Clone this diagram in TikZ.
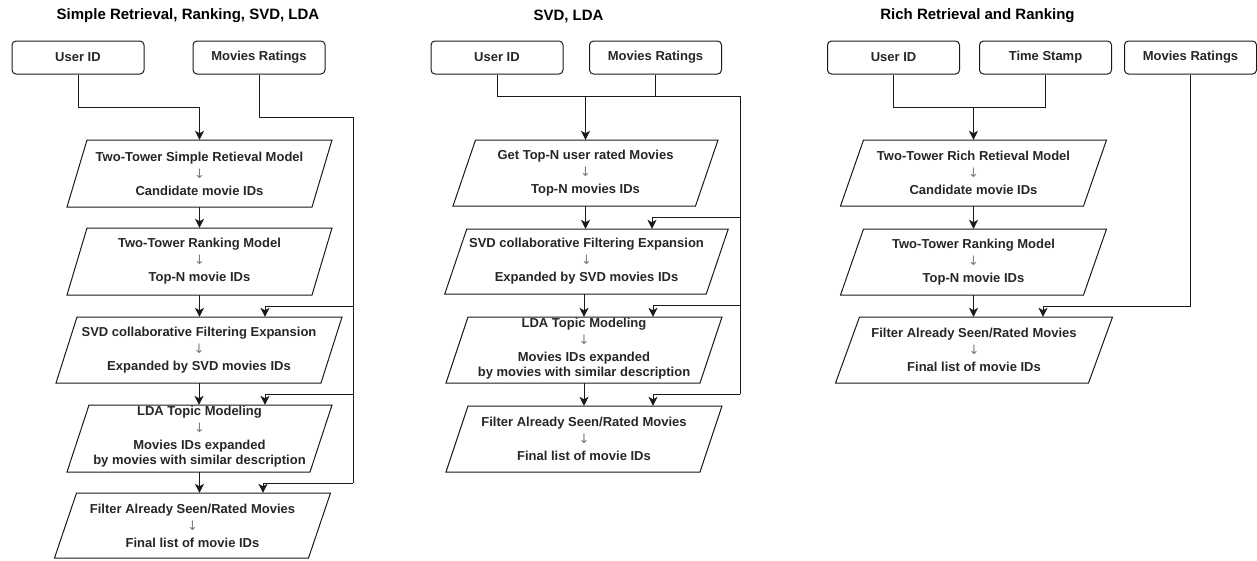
\documentclass[tikz,border=0pt]{standalone}
\usepackage{fontspec}
\setmainfont{Liberation Sans}
\newfontfamily\arrfont{DejaVu Sans}
\usetikzlibrary{arrows.meta}
\definecolor{txt}{HTML}{262626}
\definecolor{arrowgray}{HTML}{7A7A7A}
\definecolor{edge}{HTML}{1A1A1A}

\tikzset{
  wire/.style={line width=1pt, draw=edge},
  arr/.style={wire, -{Stealth[length=9pt,width=9pt,inset=2.5pt]}},
  inbox/.style={draw=edge, line width=1pt, rounded corners=4pt,
    minimum width=132pt, minimum height=33pt, inner sep=0pt,
    font=\bfseries\fontsize{13}{16}\selectfont, text=txt},
  pgline/.style={draw=edge, line width=1pt},
  pgtext/.style={inner sep=0pt, align=center,
    font=\bfseries\fontsize{13}{17}\selectfont, text=txt},
  ttl/.style={font=\bfseries\fontsize{15}{18}\selectfont, text=black, inner sep=0pt},
}

% thin grey arrow between the two lines of a step
\newcommand{\dn}{\textcolor{arrowgray}{\arrfont\mdseries\fontsize{13}{17}\selectfont ↓}}
% white label background for a line that runs over the border
\newcommand{\wbg}[1]{{\setlength{\fboxsep}{0pt}\colorbox{white}{\rule[-6pt]{0pt}{16pt}#1}}}
% parallelogram step: name, centre x, centre y, edge length, height, slant, text
\newcommand{\pgbox}[7]{%
  \draw[pgline] (#2-#4/2+#6/2, #3-#5/2) -- (#2+#4/2+#6/2, #3-#5/2)
    -- (#2+#4/2-#6/2, #3+#5/2) -- (#2-#4/2-#6/2, #3+#5/2) -- cycle;
  \node[pgtext, minimum width=#4pt, minimum height=#5pt] (#1) at (#2,#3) {#7};
}

\begin{document}
\begin{tikzpicture}[x=1pt, y=-1pt]
\useasboundingbox (0,0) rectangle (1257,560);

% ---------- Simple Retrieval, Ranking, SVD, LDA ----------
\node[ttl] (t1) at (188,16) {Simple Retrieval, Ranking, SVD, LDA};
\node[inbox] (usrA) at (78,57.5) {User ID};
\node[inbox] (mrA) at (259,57.5) {Movies Ratings};
\pgbox{retA}{199.5}{173.5}{245}{67}{20}{Two-Tower Simple Retieval Model\\ \dn\\ Candidate movie IDs}
\pgbox{rankA}{199.5}{261.5}{245}{67}{20}{Two-Tower Ranking Model\\ \dn\\ Top-N movie IDs}
\pgbox{svdA}{199}{350}{265}{66}{21}{SVD collaborative Filtering Expansion\\ \dn\\ Expanded by SVD movies IDs}
\pgbox{ldaA}{199.5}{438.5}{243}{67}{22}{LDA Topic Modeling\\ \dn\\ Movies IDs expanded\\[-2pt] \wbg{by movies with similar description}}
\pgbox{filA}{192.5}{525.5}{254}{65}{22}{Filter Already Seen/Rated Movies\\ \dn\\ Final list of movie IDs}

\draw[arr] (usrA.south) -- ++(0,33) -| (retA.north);
\draw[arr] (retA.south) -- (rankA.north);
\draw[arr] (rankA.south) -- (rankA.south |- svdA.north);
\draw[arr] (svdA.south) -- (svdA.south |- ldaA.north);
\draw[arr] (ldaA.south) -- (ldaA.south |- filA.north);
\coordinate (cA1) at (353,117);
\coordinate (cA2) at (353,306);
\coordinate (cA3) at (353,394);
\coordinate (cA4) at (353,483);
\draw[wire] (mrA.south) |- (cA1) -- (cA4);
\draw[arr] (cA2) -| ([xshift=66pt]svdA.north);
\draw[arr] (cA3) -| ([xshift=65.5pt]ldaA.north);
\draw[arr] (cA4) -| ([xshift=70.5pt]filA.north);

% ---------- SVD, LDA ----------
\node[ttl] (t2) at (568.5,16) {SVD, LDA};
\node[inbox] (usrB) at (497,57.5) {User ID};
\node[inbox] (mrB) at (655.5,57.5) {Movies Ratings};
\pgbox{topB}{585.5}{173}{242.5}{66}{22.5}{Get Top-N user rated Movies\\ \dn\\ Top-N movies IDs}
\pgbox{svdB}{586.5}{261.5}{261.5}{65}{22}{SVD collaborative Filtering Expansion\\ \dn\\ Expanded by SVD movies IDs}
\pgbox{ldaB}{584}{350}{254}{66}{22}{LDA Topic Modeling\\ \dn\\ Movies IDs expanded\\[-2pt] \wbg{by movies with similar description}}
\pgbox{filB}{584}{439}{254}{66}{22}{Filter Already Seen/Rated Movies\\ \dn\\ Final list of movie IDs}

\coordinate (cB0) at (740,96);
\coordinate (cB1) at (740,217);
\coordinate (cB2) at (740,305);
\coordinate (cB3) at (740,394);
\draw[wire] (usrB.south) |- (cB0) -- (cB3);
\draw[wire] (mrB.south) -- (mrB.south |- cB0);
\draw[arr] (topB.north |- cB0) -- (topB.north);
\draw[arr] (topB.south) -- (topB.south |- svdB.north);
\draw[arr] (ldaB.north |- svdB.south) -- (ldaB.north);
\draw[arr] (ldaB.south) -- (filB.north);
\draw[arr] (cB1) -| ([xshift=65.5pt]svdB.north);
\draw[arr] (cB2) -| ([xshift=69pt]ldaB.north);
\draw[arr] (cB3) -| ([xshift=69pt]filB.north);

% ---------- Rich Retrieval and Ranking ----------
\node[ttl] (t3) at (977.5,16) {Rich Retrieval and Ranking};
\node[inbox] (usrC) at (893.5,57.5) {User ID};
\node[inbox] (tsC) at (1045.5,57.5) {Time Stamp};
\node[inbox] (mrC) at (1190.5,57.5) {Movies Ratings};
\pgbox{richC}{973.5}{173}{243}{66}{23}{Two-Tower Rich Retieval Model\\ \dn\\ Candidate movie IDs}
\pgbox{rankC}{973.5}{262}{243}{66}{23}{Two-Tower Ranking Model\\ \dn\\ Top-N movie IDs}
\pgbox{filC}{974}{350}{253}{66}{24}{Filter Already Seen/Rated Movies\\ \dn\\ Final list of movie IDs}

\coordinate (cC0) at (974,107);
\draw[wire] (usrC.south) -- ++(0,33) -| (tsC.south);
\draw[arr] (cC0 -| richC.north) -- (richC.north);
\draw[arr] (richC.south) -- (rankC.north);
\draw[arr] (rankC.south) -- (rankC.south |- filC.north);
\draw[arr] (mrC.south) -- ++(0,232) -| ([xshift=69pt]filC.north);
\end{tikzpicture}
\end{document}
